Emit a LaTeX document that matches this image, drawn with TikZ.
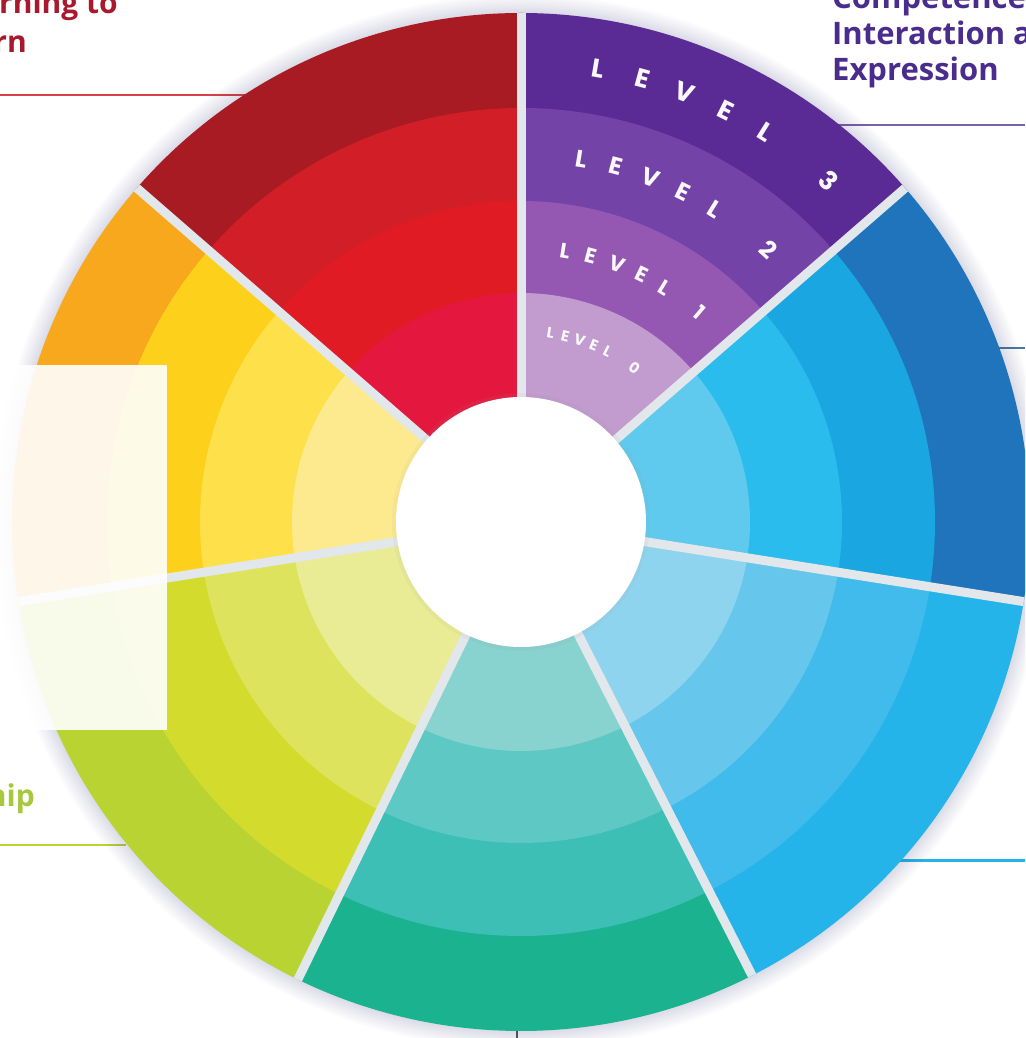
\documentclass[tikz,border=0pt]{standalone}
\usepackage{fontspec}
\setmainfont{Open Sans}
\newfontfamily\lvlfont{Poppins}
% ring colours, outermost (3) to innermost (0)
\definecolor{r3}{HTML}{A81B22}\definecolor{r2}{HTML}{D21F27}\definecolor{r1}{HTML}{E01B24}\definecolor{r0}{HTML}{E4183E}
\definecolor{p3}{HTML}{5B2B95}\definecolor{p2}{HTML}{7443A8}\definecolor{p1}{HTML}{9558B2}\definecolor{p0}{HTML}{C29BCF}
\definecolor{b3}{HTML}{1F74BB}\definecolor{b2}{HTML}{1AA6E0}\definecolor{b1}{HTML}{2ABCEC}\definecolor{b0}{HTML}{5FCAED}
\definecolor{s3}{HTML}{25B4E9}\definecolor{s2}{HTML}{40BBEB}\definecolor{s1}{HTML}{67C6EC}\definecolor{s0}{HTML}{8FD4EF}
\definecolor{t3}{HTML}{1BB28F}\definecolor{t2}{HTML}{3DBFB5}\definecolor{t1}{HTML}{5EC8C4}\definecolor{t0}{HTML}{88D2CF}
\definecolor{g3}{HTML}{B9D432}\definecolor{g2}{HTML}{D3DC2D}\definecolor{g1}{HTML}{DEE35E}\definecolor{g0}{HTML}{E9EC95}
\definecolor{y3}{HTML}{F7A81C}\definecolor{y2}{HTML}{FDD11B}\definecolor{y1}{HTML}{FEE04B}\definecolor{y0}{HTML}{FDEA8E}
\definecolor{gapcol}{HTML}{E2E7EB}
\definecolor{redtxt}{HTML}{A8192D}
\definecolor{purtxt}{HTML}{4A2C8C}
\definecolor{grntxt}{HTML}{A7C83A}

% one coloured sector: start angle, end angle, four ring colours (outer to inner)
\newcommand\wheelsector[6]{%
  \fill[#3] (0,0) -- (#1:509) arc[start angle=#1, end angle=#2, radius=509] -- cycle;
  \fill[#4] (0,0) -- (#1:414) arc[start angle=#1, end angle=#2, radius=414] -- cycle;
  \fill[#5] (0,0) -- (#1:321) arc[start angle=#1, end angle=#2, radius=321] -- cycle;
  \fill[#6] (0,0) -- (#1:229) arc[start angle=#1, end angle=#2, radius=229] -- cycle;
}
% curved ring caption: id, radius, first angle, step, digit angle, size, digit
\newcommand\levelcaption[7]{%
  \foreach \ch [count=\k from 0] in {L,E,V,E,L}{%
    \pgfmathsetmacro\ang{#3-\k*#4}
    \node[lvl, font=\lvlfont\bfseries\fontsize{#6}{#6}\selectfont, rotate=\ang-90] (#1-\k) at (\ang:#2) {\ch};
  }
  \node[lvl, font=\lvlfont\bfseries\fontsize{#6}{#6}\selectfont, rotate=#5-90] (#1-d) at (#5:#2) {#7};
}

\begin{document}
\begin{tikzpicture}[x=1pt,y=1pt,
  caption/.style={font=\fontsize{30}{36}\selectfont\bfseries, inner sep=0, anchor=base east},
  leader/.style={line width=1.8pt},
  lvl/.style={text=white!94!p0, inner sep=0, anchor=center},
  gapline/.style={gapcol, line width=9pt}]
\useasboundingbox (-521,-516) rectangle (504,522);
\clip (-521,-516) rectangle (504,522);
\fill[white] (-521,-516) rectangle (504,522);

% leader lines from the captions, running in behind the wheel
\coordinate (redL) at (-521,427);  \coordinate (redR) at (-200,427);
\coordinate (purL) at (250,397);   \coordinate (purR) at (504,397);
\coordinate (bluL) at (400,174);   \coordinate (bluR) at (504,174);
\coordinate (skyL) at (300,-338);  \coordinate (skyR) at (504,-338);
\coordinate (grnL) at (-521,-323); \coordinate (grnR) at (-395,-323);
\coordinate (tealT) at (-4,-470);  \coordinate (tealB) at (-4,-516);
\draw[leader, color=r2!85] (redL) -- (redR);
\draw[leader, color=purtxt!75] (purL) -- (purR);
\draw[leader, color=b3!60!gray] (bluL) -- (bluR);
\draw[leader, line width=3pt, color=s3] (skyL) -- (skyR);
\draw[leader, color=g3] (grnL) -- (grnR);
\draw[leader, color=black!65] (tealT) -- (tealB);

% soft shadow round the wheel
\foreach \k in {1,...,12}
  \fill[black!50!blue!50!gray, opacity=0.015] (0,0) circle (508+1.6*\k);

% the seven sectors
\wheelsector{90}{139}{r3}{r2}{r1}{r0}
\wheelsector{139}{189}{y3}{y2}{y1}{y0}
\wheelsector{189}{244}{g3}{g2}{g1}{g0}
\wheelsector{244}{297}{t3}{t2}{t1}{t0}
\wheelsector{297}{351}{s3}{s2}{s1}{s0}
\wheelsector{-9}{41}{b3}{b2}{b1}{b0}
\wheelsector{41}{90}{p3}{p2}{p1}{p0}

% separating gaps
\foreach \a in {90,139,189,244,297,351,41}
  \draw[gapline] (0,0) -- (\a:509);

% central hole
\fill[black!40, opacity=0.08] (0,0) circle (129);
\fill[white] (0,0) circle (125);

% ring captions in the purple sector
\levelcaption{lvA}{460}{80.3}{5.6}{48}{26}{3}
\levelcaption{lvB}{368}{80.6}{5.6}{47.8}{24}{2}
\levelcaption{lvC}{275}{80.8}{5.6}{49.6}{21}{1}
\levelcaption{lvD}{191}{81.1}{4.5}{53.6}{15}{0}

% pale panel at the left
\fill[white, opacity=0.9] (-521,157) rectangle (-354,-208);

% captions
\node[caption, text=redtxt] (learn1) at (-403,508) {Learning to};
\node[caption, text=redtxt] (learn2) at (-494,469) {Learn};
\node[caption, text=purtxt, font=\fontsize{31}{36}\selectfont\bfseries, anchor=base west] (comp1) at (311,513) {Competence};
\node[caption, text=purtxt, font=\fontsize{31}{36}\selectfont\bfseries, anchor=base west] (comp2) at (311,477) {Interaction and};
\node[caption, text=purtxt, font=\fontsize{31}{36}\selectfont\bfseries, anchor=base west] (comp3) at (311,441) {Expression};
\node[caption, text=grntxt] (rel) at (-486,-284) {Relationship};
\end{tikzpicture}
\end{document}
